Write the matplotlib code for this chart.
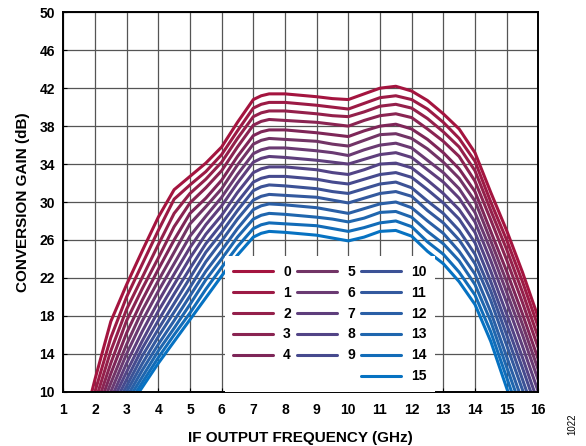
import matplotlib
matplotlib.use('Agg')
import matplotlib.pyplot as plt
from matplotlib.lines import Line2D

plt.rcParams['font.family'] = ['Liberation Sans', 'DejaVu Sans']
plt.rcParams['font.weight'] = 'bold'

# IF output frequency (GHz)
freq = [1.5, 2, 2.5, 3, 3.5, 4, 4.5, 5, 5.5, 6, 6.5, 7, 7.25, 7.5, 8,
        9, 9.5, 10, 10.5, 11, 11.5, 12, 12.5, 13, 13.5, 14, 14.5, 15, 15.5, 16]

# conversion gain (dB), one list per attenuation state 0..15
gain_0 = [4.7, 11.3, 17.4, 21.3, 24.9, 28.4, 31.3, 32.7, 34.1, 35.8, 38.4, 40.8, 41.2, 41.4, 41.4,
          41.1, 40.9, 40.8, 41.4, 42.0, 42.2, 41.7, 40.7, 39.3, 37.7, 35.2, 31.0, 27.0, 22.6, 17.8]
gain_1 = [3.9, 10.0, 15.7, 20.0, 23.5, 27.0, 30.3, 31.8, 33.2, 35.0, 37.5, 39.9, 40.3, 40.5, 40.5,
          40.2, 40.0, 39.8, 40.4, 41.0, 41.2, 40.8, 39.8, 38.4, 36.7, 34.3, 30.0, 26.0, 21.6, 16.8]
gain_2 = [3.5, 8.9, 14.3, 18.7, 22.1, 25.5, 28.8, 30.9, 32.4, 34.2, 36.7, 39.0, 39.4, 39.6, 39.6,
          39.3, 39.1, 39.0, 39.5, 40.1, 40.3, 39.9, 38.8, 37.4, 35.8, 33.3, 29.1, 25.0, 20.5, 15.7]
gain_3 = [3.0, 8.0, 13.0, 17.5, 20.9, 24.1, 27.4, 29.9, 31.5, 33.3, 35.8, 38.1, 38.5, 38.7, 38.6,
          38.4, 38.2, 38.0, 38.6, 39.1, 39.3, 38.9, 37.7, 36.4, 34.8, 32.2, 28.1, 23.9, 19.4, 14.6]
gain_4 = [2.6, 7.2, 11.9, 16.2, 19.7, 22.9, 26.0, 28.8, 30.4, 32.3, 34.8, 37.0, 37.4, 37.6, 37.6,
          37.3, 37.1, 36.9, 37.5, 38.0, 38.2, 37.7, 36.6, 35.2, 33.5, 31.1, 26.9, 22.7, 18.2, 13.4]
gain_5 = [2.3, 6.6, 10.9, 15.0, 18.6, 21.7, 24.7, 27.7, 29.5, 31.4, 33.9, 36.1, 36.5, 36.7, 36.6,
          36.4, 36.1, 35.9, 36.5, 37.1, 37.2, 36.7, 35.6, 34.2, 32.5, 30.1, 25.9, 21.6, 17.1, 12.3]
gain_6 = [2.0, 6.0, 10.0, 14.0, 17.5, 20.6, 23.5, 26.4, 28.5, 30.5, 32.9, 35.1, 35.5, 35.7, 35.7,
          35.4, 35.2, 34.9, 35.5, 36.0, 36.2, 35.7, 34.4, 33.1, 31.4, 28.9, 24.9, 20.5, 16.0, 11.2]
gain_7 = [1.7, 5.5, 9.2, 13.0, 16.4, 19.5, 22.4, 25.2, 27.6, 29.6, 32.0, 34.2, 34.6, 34.8, 34.7,
          34.4, 34.2, 34.0, 34.5, 35.0, 35.2, 34.7, 33.4, 32.1, 30.4, 27.9, 23.8, 19.4, 14.8, 10.0]
gain_8 = [1.6, 5.1, 8.6, 12.1, 15.4, 18.5, 21.3, 24.1, 26.6, 28.6, 31.0, 33.1, 33.5, 33.7, 33.7,
          33.4, 33.1, 32.9, 33.4, 34.0, 34.1, 33.6, 32.3, 30.9, 29.2, 26.8, 22.7, 18.2, 13.6, 8.8]
gain_9 = [1.3, 4.7, 8.0, 11.3, 14.6, 17.5, 20.3, 23.0, 25.6, 27.7, 30.0, 32.1, 32.5, 32.7, 32.7,
          32.4, 32.1, 31.9, 32.4, 32.9, 33.1, 32.6, 31.3, 29.9, 28.2, 25.7, 21.6, 17.1, 12.5, 7.7]
gain_10 = [1.1, 4.3, 7.5, 10.6, 13.8, 16.6, 19.3, 22.0, 24.7, 26.8, 29.1, 31.2, 31.6, 31.8, 31.7,
           31.4, 31.1, 30.9, 31.4, 31.9, 32.1, 31.5, 30.1, 28.8, 27.0, 24.5, 20.6, 16.0, 11.3, 6.5]
gain_11 = [1.0, 4.0, 7.0, 10.0, 13.0, 15.8, 18.4, 21.0, 23.7, 25.9, 28.2, 30.2, 30.6, 30.8, 30.7,
           30.5, 30.2, 29.9, 30.4, 30.9, 31.1, 30.6, 29.1, 27.8, 26.0, 23.5, 19.6, 14.9, 10.2, 5.4]
gain_12 = [0.9, 3.7, 6.6, 9.4, 12.3, 15.0, 17.5, 20.1, 22.7, 24.9, 27.2, 29.2, 29.6, 29.8, 29.7,
           29.4, 29.1, 28.8, 29.3, 29.8, 30.0, 29.4, 28.0, 26.7, 24.8, 22.4, 18.4, 13.7, 9.0, 4.2]
gain_13 = [0.7, 3.4, 6.2, 8.9, 11.6, 14.3, 16.7, 19.2, 21.8, 24.0, 26.3, 28.2, 28.6, 28.8, 28.7,
           28.4, 28.2, 27.9, 28.3, 28.9, 29.0, 28.4, 26.9, 25.6, 23.8, 21.3, 17.4, 12.6, 7.9, 3.1]
gain_14 = [0.7, 3.3, 5.8, 8.4, 11.0, 13.6, 16.0, 18.3, 20.8, 23.1, 25.3, 27.2, 27.6, 27.8, 27.7,
           27.5, 27.2, 26.9, 27.3, 27.8, 28.0, 27.4, 25.8, 24.5, 22.6, 20.2, 16.3, 11.5, 6.7, 1.9]
gain_15 = [0.5, 3.0, 5.5, 8.0, 10.5, 13.0, 15.3, 17.6, 19.9, 22.2, 24.4, 26.3, 26.7, 26.9, 26.8,
           26.5, 26.2, 25.9, 26.3, 26.9, 27.0, 26.4, 24.8, 23.5, 21.6, 19.2, 15.3, 10.4, 5.6, 0.8]

gains = [gain_0, gain_1, gain_2, gain_3, gain_4, gain_5, gain_6, gain_7,
         gain_8, gain_9, gain_10, gain_11, gain_12, gain_13, gain_14, gain_15]
labels = [str(i) for i in range(16)]
colors = ['#A4143F', '#9C1A45', '#94204B', '#8A2452', '#7E2658', '#723466',
          '#6A3A72', '#5E3E7C', '#524486', '#464A8E', '#3C5296', '#33599E',
          '#2A5FA6', '#1F66AE', '#126CB8', '#0672C2']

fig = plt.figure(figsize=(5.86, 4.46), dpi=100)
ax = fig.add_axes([63.3 / 586, 1 - 391.7 / 446, 475 / 586, 379.4 / 446])

for g, c, lab in zip(gains, colors, labels):
    ax.plot(freq, g, color=c, lw=2.2, label=lab,
            solid_joinstyle='round', solid_capstyle='round')

ax.set_xlim(1, 16)
ax.set_ylim(10, 50)
ax.set_xticks(range(1, 17))
ax.set_yticks(range(10, 51, 4))
ax.grid(True, color='#555555', lw=0.9)
ax.set_axisbelow(True)
ax.tick_params(direction='in', length=3, width=0.8, labelsize=10)
ax.tick_params(axis='x', pad=8)
ax.tick_params(axis='y', pad=6)
for lbl in ax.get_xticklabels() + ax.get_yticklabels():
    lbl.set_fontweight('bold')
for sp in ax.spines.values():
    sp.set_linewidth(1.4)
    sp.set_color('black')

ax.set_xlabel('IF OUTPUT FREQUENCY (GHz)', fontsize=11, fontweight='bold', labelpad=10)
ax.set_ylabel('CONVERSION GAIN (dB)', fontsize=11, fontweight='bold', labelpad=6.5)

# legend laid out 5 / 5 / 6 like the original
handles, labs = ax.get_legend_handles_labels()
blank = Line2D([], [], color='none')
hs = handles[0:5] + [blank] + handles[5:10] + [blank] + handles[10:16]
ls = labs[0:5] + [''] + labs[5:10] + [''] + labs[10:16]
leg = ax.legend(hs, ls, ncol=3, loc='lower left', bbox_to_anchor=(0.34, 0.0),
                borderaxespad=0, frameon=True, fancybox=False, framealpha=1,
                edgecolor='none', facecolor='white',
                prop={'weight': 'bold', 'size': 10},
                handlelength=2.9, handletextpad=0.7, columnspacing=0.45,
                labelspacing=0.5, borderpad=0.6)

fig.text(572 / 586, 1 - 424 / 446, '1022', rotation=90, fontsize=7,
         fontweight='normal', ha='center', va='center')

fig.savefig('out.png', dpi=100)
